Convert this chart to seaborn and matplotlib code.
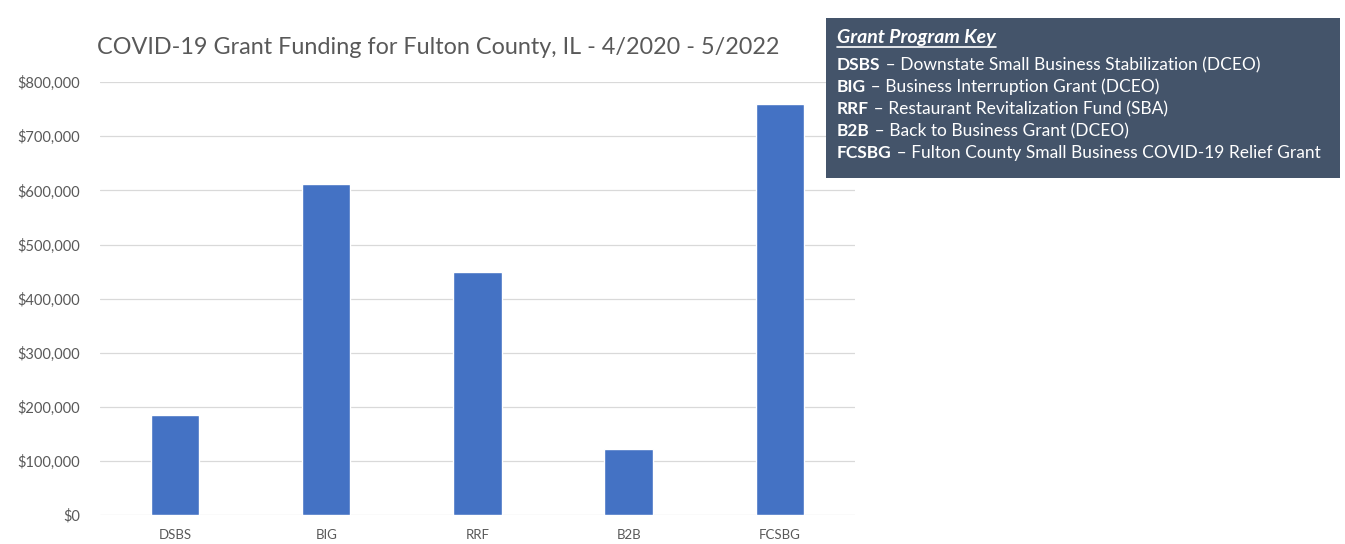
import matplotlib
matplotlib.use("Agg")
import matplotlib.pyplot as plt
import seaborn as sns
import pandas as pd
from matplotlib.patches import Rectangle
from matplotlib.ticker import FuncFormatter

categories = ["DSBS", "BIG", "RRF", "B2B", "FCSBG"]
funding = [185000, 612000, 449000, 122000, 760000]
yticks = [0, 100000, 200000, 300000, 400000, 500000, 600000, 700000, 800000]

key_abbr = ["DSBS", "BIG", "RRF", "B2B", "FCSBG"]
key_desc = [
    "Downstate Small Business Stabilization (DCEO)",
    "Business Interruption Grant (DCEO)",
    "Restaurant Revitalization Fund (SBA)",
    "Back to Business Grant (DCEO)",
    "Fulton County Small Business COVID-19 Relief Grant",
]

sns.set_theme(style="whitegrid")
plt.rcParams["font.family"] = ["Lato", "DejaVu Sans"]

df = pd.DataFrame({"Program": categories, "Funding": funding})

fig = plt.figure(figsize=(13.45, 5.44), dpi=100)
ax = fig.add_axes([0.074, 0.053, 0.562, 0.796])
sns.barplot(data=df, x="Program", y="Funding", color="#4472C4", width=0.32,
            saturation=1, ax=ax)
ax.set_ylim(0, 800000)
ax.set_yticks(yticks)
ax.yaxis.set_major_formatter(FuncFormatter(lambda v, p: "${:,.0f}".format(v)))
ax.set_xlabel("")
ax.set_ylabel("")
ax.grid(axis="x", visible=False)
ax.grid(axis="y", color="#d9d9d9", linewidth=0.9)
for s in ax.spines.values():
    s.set_visible(False)
ax.tick_params(axis="y", labelsize=10.5, labelcolor="#595959", pad=14, length=0)
ax.tick_params(axis="x", labelsize=9.5, labelcolor="#595959", pad=10, length=0)
ax.set_facecolor("white")

fig.text(0.072, 0.913, "COVID-19 Grant Funding for Fulton County, IL - 4/2020 - 5/2022",
         fontsize=16.8, color="#595959", ha="left", va="center")

# key box
fig.patches.append(Rectangle((826 / 1345, 1 - 178 / 544), (1340 - 826) / 1345, (178 - 18) / 544,
                             transform=fig.transFigure, facecolor="#44546A",
                             edgecolor="none", zorder=5))
x0 = 837 / 1345
title_t = fig.text(x0, 1 - 37 / 544, "Grant Program Key", fontsize=14, color="white",
                   fontweight="bold", fontstyle="italic", ha="left", va="center", zorder=6)
ys = [70, 92, 114, 136, 158]
bold_texts = []
for abbr, y in zip(key_abbr, ys):
    t = fig.text(x0, 1 - y / 544, abbr, fontsize=12.5, color="white", fontweight="bold",
                 ha="left", va="baseline", zorder=6)
    bold_texts.append(t)
for t, desc in zip(bold_texts, key_desc):
    fig.add_artist(plt.Annotation(" \u2013 " + desc, xy=(1, 0), xycoords=t,
                                  va="bottom", ha="left", fontsize=12.5, color="white",
                                  zorder=6))
fig.canvas.draw()
r = fig.canvas.get_renderer()
bb = title_t.get_window_extent(r)
bbf = bb.transformed(fig.transFigure.inverted())
fig.add_artist(plt.Line2D([bbf.x0, bbf.x1], [bbf.y0 - 0.002, bbf.y0 - 0.002],
                          transform=fig.transFigure, color="white", linewidth=1.2, zorder=6))

fig.savefig("out.png", dpi=100, facecolor="white")
